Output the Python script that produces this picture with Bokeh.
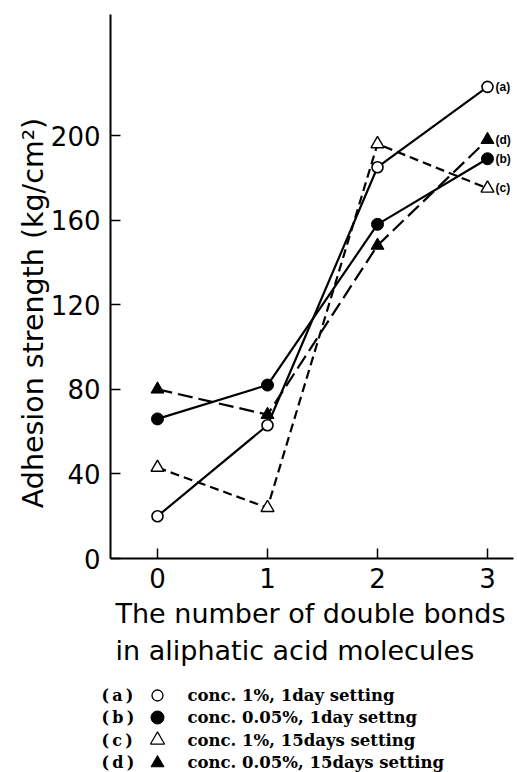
import math
from bokeh.plotting import figure
from bokeh.models import Range1d, FixedTicker
from bokeh.core.properties import value
from bokeh.embed import file_html
from bokeh.resources import INLINE

# ---- data ----
x_bonds = [0, 1, 2, 3]
a_vals = [20, 63, 185, 223]   # conc. 1%, 1day setting (open circle, solid)
b_vals = [66, 82, 158, 189]   # conc. 0.05%, 1day setting (filled circle, solid)
c_vals = [43, 24, 196, 175]   # conc. 1%, 15days setting (open triangle, short dash)
d_vals = [80, 68, 148, 198]   # conc. 0.05%, 15days setting (filled triangle, long dash)
x_ticks = [0, 1, 2, 3]
y_ticks = [0, 40, 80, 120, 160, 200]
series_tags = ["(a)", "(b)", "(c)", "(d)"]
legend_tags = ["(\u2009a\u2009)", "(\u2009b\u2009)", "(\u2009c\u2009)", "(\u2009d\u2009)"]
legend_texts = ["conc. 1%, 1day setting",
                "conc. 0.05%, 1day settng",
                "conc. 1%, 15days setting",
                "conc. 0.05%, 15days setting"]
x_title_lines = ["The number of double bonds", "in aliphatic acid molecules"]
y_title = "Adhesion strength (kg/cm²)"

# ---- layout: page pixels -> data coordinates ----
W, H = 517, 772
X0_PX, X_PER = 157, 110.0       # page x of x=0, pixels per unit
Y0_PX, Y_PER = 558, 2.115       # page y of y=0, pixels per unit


def XP(px):
    return (px - X0_PX) / X_PER


def YP(py):
    return (Y0_PX - py) / Y_PER


X_AXIS_BOUNDS = (XP(110), XP(513))
Y_AXIS_BOUNDS = (0, YP(14))
SANS = "DejaVu Sans"
SERIF = "DejaVu Serif"

p = figure(width=W, height=H, x_range=Range1d(XP(0), XP(W)), y_range=Range1d(YP(H), YP(0)),
           output_backend="svg", toolbar_location=None,
           min_border_left=0, min_border_right=0, min_border_top=0, min_border_bottom=0)
p.outline_line_color = None
p.grid.visible = False
p.background_fill_color = "white"
p.border_fill_color = "white"

p.xaxis.fixed_location = 0
p.xaxis.bounds = X_AXIS_BOUNDS
p.yaxis.fixed_location = X_AXIS_BOUNDS[0]
p.yaxis.bounds = Y_AXIS_BOUNDS
p.xaxis.ticker = FixedTicker(ticks=x_ticks)
p.yaxis.ticker = FixedTicker(ticks=y_ticks)
for ax in (p.xaxis, p.yaxis):
    ax.axis_line_width = 2
    ax.axis_line_color = "black"
    ax.major_tick_in = 10
    ax.major_tick_out = 0
    ax.major_tick_line_width = 1.5
    ax.major_tick_line_color = "black"
    ax.minor_tick_line_color = None
    ax.major_label_text_font = SANS
    ax.major_label_text_font_size = "26px"
    ax.major_label_text_color = "black"
p.xaxis.major_label_standoff = 9
p.yaxis.major_label_standoff = 10

LW = 2.2
p.line(x_bonds, a_vals, line_width=LW, line_color="black")
p.line(x_bonds, b_vals, line_width=LW, line_color="black")
p.line(x_bonds, c_vals, line_width=LW, line_color="black", line_dash="9 5")
p.line(x_bonds, d_vals, line_width=LW, line_color="black", line_dash="15 6")

p.scatter(x_bonds, a_vals, marker="circle", size=11, fill_color="white", line_color="black", line_width=1.6)
p.scatter(x_bonds, b_vals, marker="circle", size=12, fill_color="black", line_color="black")
p.scatter(x_bonds, c_vals, marker="triangle", size=13, fill_color="white", line_color="black", line_width=1.4)
p.scatter(x_bonds, d_vals, marker="triangle", size=13, fill_color="black", line_color="black")

# series tags at the right-hand ends
p.text(x=[XP(495)] * 4, y=[v[-1] for v in (a_vals, b_vals, c_vals, d_vals)], text=series_tags,
       text_font=value("Liberation Sans"), text_font_size="12px", text_font_style="bold",
       text_color="black", text_align="left", text_baseline="middle")

# y title
p.text(x=[XP(32.5)], y=[YP(312.5)], text=[y_title], angle=math.pi / 2,
       text_font=value(SANS), text_font_size="28.5px", text_color="black",
       text_align="center", text_baseline="middle")

# x title
p.text(x=[XP(115)] * 2, y=[YP(613), YP(650)], text=x_title_lines,
       text_font=value(SANS), text_font_size="27px", text_color="black",
       text_align="left", text_baseline="middle")

# legend
mids = [694.5, 717, 739.5, 762]
p.text(x=[XP(101)] * 4, y=[YP(m) for m in mids], text=legend_tags,
       text_font=value(SERIF), text_font_size="16px", text_font_style="bold",
       text_color="black", text_align="left", text_baseline="middle")
p.text(x=[XP(187)] * 4, y=[YP(m) for m in mids], text=legend_texts,
       text_font=value(SERIF), text_font_size="16.5px", text_font_style="bold",
       text_color="black", text_align="left", text_baseline="middle")
kx = XP(157)
p.scatter([kx], [YP(695)], marker="circle", size=11, fill_color="white", line_color="black", line_width=1.3)
p.scatter([kx], [YP(717)], marker="circle", size=13, fill_color="black", line_color="black")
p.scatter([kx], [YP(739.5)], marker="triangle", size=14, fill_color="white", line_color="black", line_width=1.2)
p.scatter([kx], [YP(762.5)], marker="triangle", size=13, fill_color="black", line_color="black")

open("out.html", "w").write(file_html(p, INLINE))
